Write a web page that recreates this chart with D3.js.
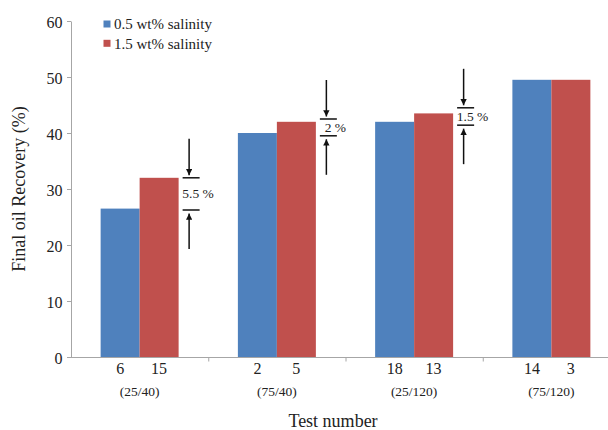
<!DOCTYPE html>
<html>
<head>
<meta charset="utf-8">
<script src="https://cdn.jsdelivr.net/npm/d3@7/dist/d3.min.js"></script>
<style>
  html, body { margin: 0; padding: 0; background: #ffffff; }
  svg { display: block; }
  text { font-family: "Liberation Serif", "Times New Roman", serif; fill: #222; }
</style>
</head>
<body>
<svg id="chart" width="608" height="430"></svg>
<script>
// ---- data ----
const groups = ["(25/40)", "(75/40)", "(25/120)", "(75/120)"];
const seriesNames = ["0.5 wt% salinity", "1.5 wt% salinity"];
const testNumbersLow = ["6", "2", "18", "14"];
const testNumbersHigh = ["15", "5", "13", "3"];
const recoveryLow = [26.5, 40, 42, 49.5];
const recoveryHigh = [32, 42, 43.5, 49.5];
const yTicks = [0, 10, 20, 30, 40, 50, 60];
const annoLabels = ["5.5 %", "2 %", "1.5 %"];
const annoUpper = [32, 42.5, 44.5];
const annoLower = [26.25, 39.5, 41.4];

// ---- layout / style ----
const colors = ["#4F81BD", "#C0504D"];
const axisColor = "#a6a6a6";
const svg = d3.select("#chart");

const x0 = d3.scaleBand().domain(groups).range([71, 620]).paddingInner(0).paddingOuter(0);
const x1 = d3.scaleBand().domain(seriesNames).range([0, x0.bandwidth()]).paddingInner(0).paddingOuter(0.76);
const y = d3.scaleLinear().domain([0, 60]).range([357, 21]);

const rows = groups.map((g, i) => ({
  group: g,
  values: [
    { s: seriesNames[0], v: recoveryLow[i], label: testNumbersLow[i] },
    { s: seriesNames[1], v: recoveryHigh[i], label: testNumbersHigh[i] }
  ]
}));

// bars
const gGroups = svg.append("g").selectAll("g").data(rows).join("g")
  .attr("transform", d => `translate(${x0(d.group)},0)`);
gGroups.selectAll("rect").data(d => d.values).join("rect")
  .attr("x", d => x1(d.s))
  .attr("y", d => y(d.v))
  .attr("width", x1.bandwidth())
  .attr("height", d => y(0) - y(d.v))
  .attr("fill", (d, i) => colors[i]);

// test number labels
gGroups.selectAll("text.tn").data(d => d.values).join("text")
  .attr("class", "tn")
  .attr("x", d => x1(d.s) + x1.bandwidth() / 2)
  .attr("y", 373.5)
  .attr("text-anchor", "middle")
  .style("font-size", "16px")
  .text(d => d.label);

// group labels
gGroups.append("text")
  .attr("x", x0.bandwidth() / 2)
  .attr("y", 396)
  .attr("text-anchor", "middle")
  .style("font-size", "13.5px")
  .text(d => d.group);

// y axis
const yAxis = svg.append("g").attr("transform", "translate(71,0)")
  .call(d3.axisLeft(y).tickValues(yTicks).tickSize(4).tickSizeOuter(0).tickPadding(4.5));
yAxis.select(".domain").attr("stroke", axisColor);
yAxis.selectAll(".tick line").attr("stroke", axisColor);
yAxis.selectAll(".tick text")
  .style("font-family", '"Liberation Serif", serif')
  .style("font-size", "16px").attr("fill", "#222").attr("dy", "0.38em");

// x axis (line + boundary ticks)
const xAxis = svg.append("g");
xAxis.append("line")
  .attr("x1", x0.range()[0]).attr("x2", x0.range()[1])
  .attr("y1", y(0) + 0.5).attr("y2", y(0) + 0.5)
  .attr("stroke", axisColor);
const bounds = groups.map(g => x0(g)).concat([x0.range()[1]]);
xAxis.selectAll("line.t").data(bounds.slice(1)).join("line")
  .attr("class", "t")
  .attr("x1", d => d + 0.5).attr("x2", d => d + 0.5)
  .attr("y1", y(0)).attr("y2", y(0) + 4.5)
  .attr("stroke", axisColor);

// axis titles
svg.append("text")
  .attr("transform", `translate(25,${(y(0) + y(60)) / 2}) rotate(-90)`)
  .attr("text-anchor", "middle")
  .style("font-size", "18px")
  .text("Final oil Recovery (%)");
svg.append("text")
  .attr("x", 333).attr("y", 427)
  .attr("text-anchor", "middle")
  .style("font-size", "18px")
  .text("Test number");

// legend
const leg = svg.append("g");
seriesNames.forEach((s, i) => {
  leg.append("rect").attr("x", 103.5).attr("y", 20.5 + i * 19.3)
    .attr("width", 7).attr("height", 7).attr("fill", colors[i]);
  leg.append("text").attr("x", 114).attr("y", 29.3 + i * 19.3)
    .style("font-size", "15px").text(s);
});

// annotations
const defs = svg.append("defs");
defs.append("marker").attr("id", "ah")
  .attr("viewBox", "0 0 10 10").attr("refX", 10).attr("refY", 5)
  .attr("markerWidth", 4.2).attr("markerHeight", 4.2).attr("markerUnits", "strokeWidth")
  .attr("orient", "auto")
  .append("path").attr("d", "M0,0 L10,5 L0,10 Z").attr("fill", "#111");

const ann = svg.append("g");
annoLabels.forEach((lab, i) => {
  const ax = x0(groups[i]) + x1(seriesNames[1]) + x1.bandwidth() + 10.5;
  const yu = y(annoUpper[i]);
  const yl = y(annoLower[i]);
  ann.append("line").attr("x1", ax - 6.5).attr("x2", ax + 10.5)
    .attr("y1", yu).attr("y2", yu).attr("stroke", "#111").attr("stroke-width", 1.5);
  ann.append("line").attr("x1", ax - 6.5).attr("x2", ax + 10.5)
    .attr("y1", yl).attr("y2", yl).attr("stroke", "#111").attr("stroke-width", 1.5);
  ann.append("line").attr("x1", ax).attr("x2", ax)
    .attr("y1", yu - 39).attr("y2", yu - 2.5)
    .attr("stroke", "#111").attr("stroke-width", 1.5).attr("marker-end", "url(#ah)");
  ann.append("line").attr("x1", ax).attr("x2", ax)
    .attr("y1", yl + 39).attr("y2", yl + 3.5)
    .attr("stroke", "#111").attr("stroke-width", 1.5).attr("marker-end", "url(#ah)");
  ann.append("text").attr("x", ax + 9).attr("y", (yu + yl) / 2 + 4.4)
    .attr("text-anchor", "middle").style("font-size", "13.5px").text(lab);
});
</script>
</body>
</html>
